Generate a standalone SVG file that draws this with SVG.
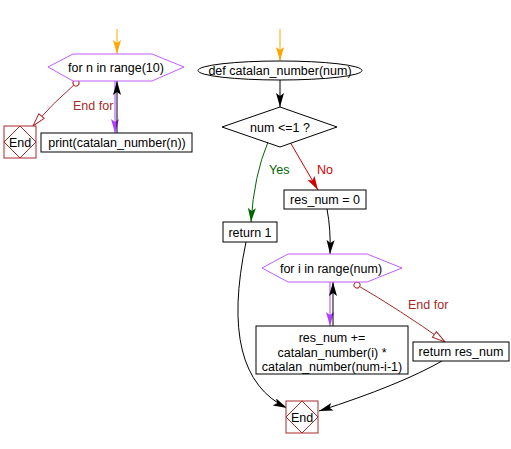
<svg xmlns="http://www.w3.org/2000/svg" width="511" height="449" viewBox="0 0 511 449">
<style>
text{font-family:"Liberation Sans",Arial,sans-serif;font-size:12.5px;fill:#000}
.box{fill:#fff;stroke:#000;stroke-width:1}
.hex{fill:#fff;stroke:#bf5fff;stroke-width:1}
.end{fill:#fff;stroke:#a52a2a;stroke-width:1}
.c{fill:none;stroke:#000;stroke-width:1}
.m{text-anchor:middle}
</style>
<defs>
<marker id="ab" markerUnits="userSpaceOnUse" markerWidth="16" markerHeight="10" refX="14" refY="4" orient="auto"><path d="M0,0 L14,4 L0,8 L3,4 z" fill="#000"/></marker>
<marker id="ao" markerUnits="userSpaceOnUse" markerWidth="16" markerHeight="10" refX="14" refY="4" orient="auto"><path d="M0,0 L14,4 L0,8 L3,4 z" fill="#ffa500"/></marker>
<marker id="ap" markerUnits="userSpaceOnUse" markerWidth="16" markerHeight="10" refX="14" refY="4" orient="auto"><path d="M0,0 L14,4 L0,8 L3,4 z" fill="#b040ff"/></marker>
<marker id="ag" markerUnits="userSpaceOnUse" markerWidth="16" markerHeight="10" refX="14" refY="4" orient="auto"><path d="M0,0 L14,4 L0,8 L3,4 z" fill="#006400"/></marker>
<marker id="ar" markerUnits="userSpaceOnUse" markerWidth="16" markerHeight="10" refX="14" refY="4" orient="auto"><path d="M0,0 L14,4 L0,8 L3,4 z" fill="#d00000"/></marker>
<marker id="aw" markerUnits="userSpaceOnUse" markerWidth="16" markerHeight="10" refX="14" refY="4" orient="auto"><path d="M1,0.5 L14,4 L1,7.5 z" fill="#fff" stroke="#a52a2a"/></marker>
<marker id="cs" markerUnits="userSpaceOnUse" markerWidth="8" markerHeight="8" refX="4" refY="4" orient="auto"><circle cx="4" cy="4" r="3" fill="#fff" stroke="#a52a2a"/></marker>
</defs>

<g id="connectors">
<path class="c" d="M117,29 L117,54" style="stroke:#ffa500" marker-end="url(#ao)"/>
<path class="c" d="M280,29 L280,61" style="stroke:#ffa500" marker-end="url(#ao)"/>
<path class="c" d="M115,81 L115,133" style="stroke:#b040ff" marker-end="url(#ap)"/>
<path class="c" d="M117,133 L117,81" marker-end="url(#ab)"/>
<path class="c" d="M76,83 Q52,104 33,126" style="stroke:#a52a2a" marker-start="url(#cs)" marker-end="url(#aw)"/>
<path class="c" d="M280,80 L280,107" marker-end="url(#ab)"/>
<path class="c" d="M268,142 Q254,175 251,222" style="stroke:#006400" marker-end="url(#ag)"/>
<path class="c" d="M290,142 L318,190" style="stroke:#d00000" marker-end="url(#ar)"/>
<path class="c" d="M327,209 Q331,230 330,254" marker-end="url(#ab)"/>
<path class="c" d="M330,282 L330,326" style="stroke:#b040ff" marker-end="url(#ap)"/>
<path class="c" d="M333,326 L333,282" marker-end="url(#ab)"/>
<path class="c" d="M357,285 Q400,310 445,342" style="stroke:#a52a2a" marker-start="url(#cs)" marker-end="url(#aw)"/>
<path class="c" d="M246,242 Q218,375 287,408" marker-end="url(#ab)"/>
<path class="c" d="M442,361 Q400,385 319,411" marker-end="url(#ab)"/>
<text x="73" y="110" style="fill:#a52a2a">End for</text>
<text x="408" y="309" style="fill:#a52a2a">End for</text>
<text x="269" y="174" style="fill:#006400">Yes</text>
<text x="317" y="174" style="fill:#d00000">No</text>
</g>

<g id="for_n">
<polygon class="hex" points="48,67 73,54 152,54 184,67 152,81 73,81"/>
<text class="m" x="116" y="71.5">for n in range(10)</text>
</g>
<g id="end1">
<rect class="end" x="4" y="126" width="32" height="32"/>
<polygon points="20,126 36,142 20,158 4,142" fill="none" stroke="#a52a2a"/>
<text class="m" x="20" y="146.5">End</text>
</g>
<g id="print">
<rect class="box" x="41" y="133" width="151" height="19"/>
<text class="m" x="117" y="147">print(catalan_number(n))</text>
</g>
<g id="def">
<ellipse cx="280" cy="70.5" rx="82" ry="9.5" fill="#fff" stroke="#000"/>
<text class="m" x="280" y="75">def catalan_number(num)</text>
</g>
<g id="cond">
<polygon points="222,127 280,107 337,127 280,147" fill="#fff" stroke="#000"/>
<text class="m" x="280" y="131.5">num &lt;=1 ?</text>
</g>
<g id="ret1">
<rect class="box" x="223" y="222" width="54" height="20"/>
<text class="m" x="250" y="236.5">return 1</text>
</g>
<g id="resnum0">
<rect class="box" x="284" y="190" width="82" height="19"/>
<text class="m" x="325" y="204">res_num = 0</text>
</g>
<g id="for_i">
<polygon class="hex" points="262,268 288,254 367,254 402,268 367,282 288,282"/>
<text class="m" x="331" y="272.5">for i in range(num)</text>
</g>
<g id="accum">
<rect class="box" x="256" y="326" width="152" height="48"/>
<text class="m" x="332" y="342">res_num +=</text>
<text class="m" x="332" y="357">catalan_number(i) *</text>
<text class="m" x="332" y="371">catalan_number(num-i-1)</text>
</g>
<g id="retres">
<rect class="box" x="413" y="342" width="96" height="19"/>
<text class="m" x="461" y="356">return res_num</text>
</g>
<g id="end2">
<rect class="end" x="286" y="401" width="32" height="32"/>
<polygon points="302,401 318,417 302,433 286,417" fill="none" stroke="#a52a2a"/>
<text class="m" x="302" y="421.5">End</text>
</g>
</svg>
